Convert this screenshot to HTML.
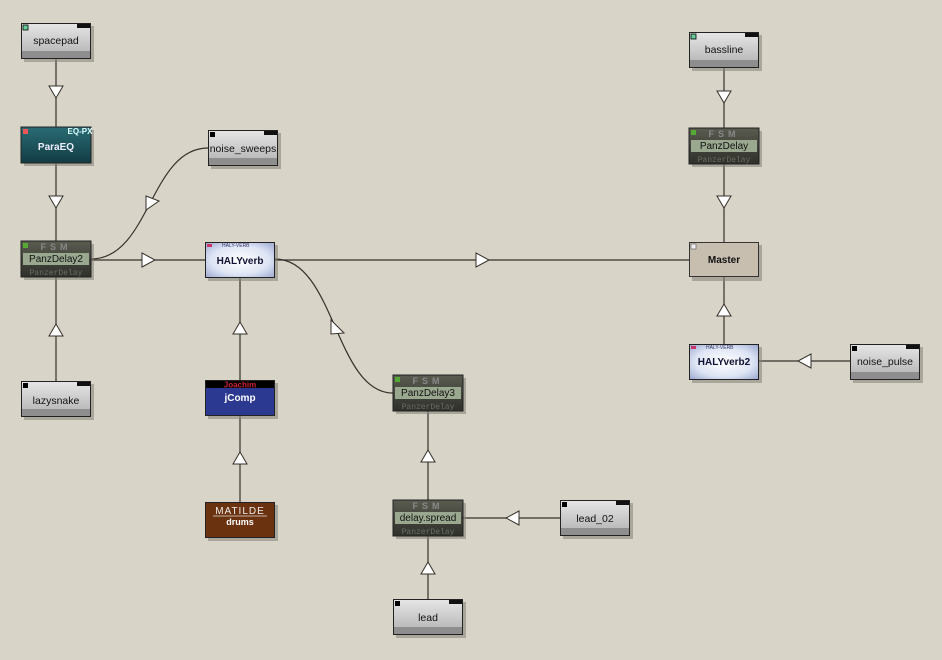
<!DOCTYPE html>
<html><head><meta charset="utf-8"><style>
html,body{margin:0;padding:0;background:#d8d4c8;}
svg{display:block;font-family:"Liberation Sans",sans-serif;}
</style></head><body>
<svg width="942" height="660" viewBox="0 0 942 660" xmlns="http://www.w3.org/2000/svg">
<defs>
<linearGradient id="gray" x1="0" y1="0" x2="0" y2="1"><stop offset="0" stop-color="#e6e6e6"/><stop offset="1" stop-color="#b0b0b0"/></linearGradient>
<linearGradient id="panz" x1="0" y1="0" x2="0" y2="1"><stop offset="0" stop-color="#5a5c50"/><stop offset="1" stop-color="#2e302a"/></linearGradient>
<radialGradient id="haly" cx="0.5" cy="0.5" r="0.7"><stop offset="0" stop-color="#ffffff"/><stop offset="0.6" stop-color="#dde4f4"/><stop offset="1" stop-color="#9aa8d0"/></radialGradient>
<linearGradient id="teal" x1="0" y1="0" x2="0" y2="1"><stop offset="0" stop-color="#2a6c74"/><stop offset="1" stop-color="#123c44"/></linearGradient>
</defs>
<rect width="942" height="660" fill="#d8d4c8"/>
<g stroke="#35302a" stroke-width="1.2" fill="none">
<line x1="56" y1="59" x2="56" y2="127"/>
<line x1="56" y1="163" x2="56" y2="241"/>
<line x1="56" y1="277" x2="56" y2="381"/>
<line x1="91" y1="260" x2="205" y2="260"/>
<line x1="275" y1="260" x2="689" y2="260"/>
<path d="M91 259 C150 259 150 148 208 148"/>
<path d="M275 259 C335 259 335 393 393 393"/>
<line x1="240" y1="278" x2="240" y2="380"/>
<line x1="240" y1="416" x2="240" y2="502"/>
<line x1="428" y1="411" x2="428" y2="500"/>
<line x1="428" y1="536" x2="428" y2="599"/>
<line x1="463" y1="518" x2="560" y2="518"/>
<line x1="724" y1="68" x2="724" y2="128"/>
<line x1="724" y1="163" x2="724" y2="242"/>
<line x1="724" y1="277" x2="724" y2="344"/>
<line x1="759" y1="361" x2="850" y2="361"/>
</g>
<g fill="#fff" stroke="#35302a" stroke-width="1">
<polygon points="49,86 63,86 56,98"/>
<polygon points="49,196 63,196 56,208"/>
<polygon points="49,336 63,336 56,324"/>
<polygon points="142,253 142,267 155,260"/>
<polygon points="476,253 476,267 489,260"/>
<polygon points="233,334 247,334 240,322"/>
<polygon points="233,464 247,464 240,452"/>
<polygon points="421,462 435,462 428,450"/>
<polygon points="421,574 435,574 428,562"/>
<polygon points="519,511 519,525 506,518"/>
<polygon points="717,91 731,91 724,103"/>
<polygon points="717,196 731,196 724,208"/>
<polygon points="717,316 731,316 724,304"/>
<polygon points="811,354 811,368 798,361"/>
<polygon points="146,196 146,210 159,201"/>
<polygon points="331,320 331,334 344,333"/>
</g>

<g fill="#8a877e" opacity="0.6">
<rect x="24" y="26" width="70" height="36"/><rect x="211" y="133" width="70" height="36"/>
<rect x="24" y="384" width="70" height="36"/><rect x="396" y="602" width="70" height="36"/>
<rect x="563" y="503" width="70" height="36"/><rect x="692" y="35" width="70" height="36"/>
<rect x="853" y="347" width="70" height="36"/>
<rect x="24" y="130" width="70" height="36"/><rect x="24" y="244" width="70" height="36"/>
<rect x="208" y="245" width="70" height="36"/><rect x="208" y="383" width="70" height="36"/>
<rect x="208" y="505" width="70" height="36"/><rect x="396" y="378" width="70" height="36"/>
<rect x="396" y="503" width="70" height="36"/><rect x="692" y="131" width="70" height="36"/>
<rect x="692" y="245" width="70" height="36"/><rect x="692" y="347" width="70" height="36"/>
</g>
<g font-size="10" text-anchor="middle">
<rect x="21.5" y="23.5" width="69" height="35" fill="url(#gray)" stroke="#222"/><rect x="22" y="51" width="68" height="7" fill="#8e8e8e"/><rect x="23" y="25" width="5" height="5" fill="#6c9" stroke="#000" stroke-width=".8"/><rect x="77" y="24" width="13" height="4" fill="#111"/><text x="56" y="44" fill="#111" font-size="10.5">spacepad</text>
<rect x="208.5" y="130.5" width="69" height="35" fill="url(#gray)" stroke="#222"/><rect x="209" y="158" width="68" height="7" fill="#8e8e8e"/><rect x="210" y="132" width="5" height="5" fill="#000"/><rect x="264" y="131" width="13" height="4" fill="#111"/><text x="243" y="152" fill="#111" font-size="10.5">noise_sweeps</text>
<rect x="21.5" y="381.5" width="69" height="35" fill="url(#gray)" stroke="#222"/><rect x="22" y="409" width="68" height="7" fill="#8e8e8e"/><rect x="23" y="383" width="5" height="5" fill="#000"/><rect x="77" y="382" width="13" height="4" fill="#111"/><text x="56" y="404" fill="#111" font-size="10.5">lazysnake</text>
<rect x="393.5" y="599.5" width="69" height="35" fill="url(#gray)" stroke="#222"/><rect x="394" y="627" width="68" height="7" fill="#8e8e8e"/><rect x="395" y="601" width="5" height="5" fill="#000"/><rect x="449" y="600" width="13" height="4" fill="#111"/><text x="428" y="621" fill="#111" font-size="10.5">lead</text>
<rect x="560.5" y="500.5" width="69" height="35" fill="url(#gray)" stroke="#222"/><rect x="561" y="528" width="68" height="7" fill="#8e8e8e"/><rect x="562" y="502" width="5" height="5" fill="#000"/><rect x="616" y="501" width="13" height="4" fill="#111"/><text x="595" y="522" fill="#111" font-size="10.5">lead_02</text>
<rect x="689.5" y="32.5" width="69" height="35" fill="url(#gray)" stroke="#222"/><rect x="690" y="60" width="68" height="7" fill="#8e8e8e"/><rect x="691" y="34" width="5" height="5" fill="#6c9" stroke="#000" stroke-width=".8"/><rect x="745" y="33" width="13" height="4" fill="#111"/><text x="724" y="53" fill="#111" font-size="10.5">bassline</text>
<rect x="850.5" y="344.5" width="69" height="35" fill="url(#gray)" stroke="#222"/><rect x="851" y="372" width="68" height="7" fill="#8e8e8e"/><rect x="852" y="346" width="5" height="5" fill="#000"/><rect x="906" y="345" width="13" height="4" fill="#111"/><text x="885" y="365" fill="#111" font-size="10.5">noise_pulse</text>

<rect x="21" y="127" width="70" height="36" fill="url(#teal)" stroke="#222"/><rect x="23" y="129" width="5" height="5" fill="#e55"/><text x="80" y="134" fill="#dff" font-size="8" font-weight="bold">EQ-PX</text><text x="56" y="150" fill="#eef" font-weight="bold">ParaEQ</text>

<rect x="21" y="241" width="70" height="36" fill="url(#panz)" stroke="#222"/><rect x="23" y="253" width="66" height="12" fill="#9aa890"/><text x="56" y="262" fill="#111">PanzDelay2</text><text x="56" y="250" fill="#888" font-size="9" font-weight="bold" letter-spacing="4">FSM</text><text x="56" y="275" fill="#6a6e64" font-size="8" font-family="Liberation Mono,monospace">PanzerDelay</text><rect x="23" y="243" width="5" height="5" fill="#5a3"/>
<rect x="393" y="375" width="70" height="36" fill="url(#panz)" stroke="#222"/><rect x="395" y="387" width="66" height="12" fill="#9aa890"/><text x="428" y="396" fill="#111">PanzDelay3</text><text x="428" y="384" fill="#888" font-size="9" font-weight="bold" letter-spacing="4">FSM</text><text x="428" y="409" fill="#6a6e64" font-size="8" font-family="Liberation Mono,monospace">PanzerDelay</text><rect x="395" y="377" width="5" height="5" fill="#5a3"/>
<rect x="393" y="500" width="70" height="36" fill="url(#panz)" stroke="#222"/><rect x="395" y="512" width="66" height="12" fill="#9aa890"/><text x="428" y="521" fill="#111">delay.spread</text><text x="428" y="509" fill="#888" font-size="9" font-weight="bold" letter-spacing="4">FSM</text><text x="428" y="534" fill="#6a6e64" font-size="8" font-family="Liberation Mono,monospace">PanzerDelay</text>
<rect x="689" y="128" width="70" height="36" fill="url(#panz)" stroke="#222"/><rect x="691" y="140" width="66" height="12" fill="#9aa890"/><text x="724" y="149" fill="#111">PanzDelay</text><text x="724" y="137" fill="#888" font-size="9" font-weight="bold" letter-spacing="4">FSM</text><text x="724" y="162" fill="#6a6e64" font-size="8" font-family="Liberation Mono,monospace">PanzerDelay</text><rect x="691" y="130" width="5" height="5" fill="#5a3"/>

<rect x="205.5" y="242.5" width="69" height="35" fill="url(#haly)" stroke="#222"/><rect x="207" y="244" width="5" height="3" fill="#c36"/><text x="222" y="247" font-size="5" fill="#336" text-anchor="start">HALY-VERB</text><text x="240" y="264" fill="#113" font-weight="bold">HALYverb</text>
<rect x="689.5" y="344.5" width="69" height="35" fill="url(#haly)" stroke="#222"/><rect x="691" y="346" width="5" height="3" fill="#c36"/><text x="706" y="349" font-size="5" fill="#336" text-anchor="start">HALY-VERB</text><text x="724" y="365" fill="#113" font-weight="bold">HALYverb2</text>

<rect x="205.5" y="380.5" width="69" height="35" fill="#2b3a90" stroke="#222"/><rect x="206" y="381" width="68" height="7" fill="#000"/><text x="240" y="387.5" font-size="8" fill="#c23" font-weight="bold">Joachim</text><text x="240" y="401" fill="#fff" font-weight="bold">jComp</text>

<rect x="205.5" y="502.5" width="69" height="35" fill="#6b3210" stroke="#222"/><text x="240" y="514" fill="#eee" font-size="10" letter-spacing="1">MATILDE</text><line x1="213" y1="516" x2="267" y2="516" stroke="#ddd" stroke-width=".8"/><text x="240" y="525" fill="#fff" font-size="9" font-weight="bold">drums</text>

<rect x="689.5" y="242.5" width="69" height="34" fill="#c8beb0" stroke="#333"/><rect x="691" y="244" width="5" height="5" fill="#eee" stroke="#555" stroke-width=".6"/><text x="724" y="263" fill="#111" font-weight="bold">Master</text>
</g>
</svg>
</body></html>
